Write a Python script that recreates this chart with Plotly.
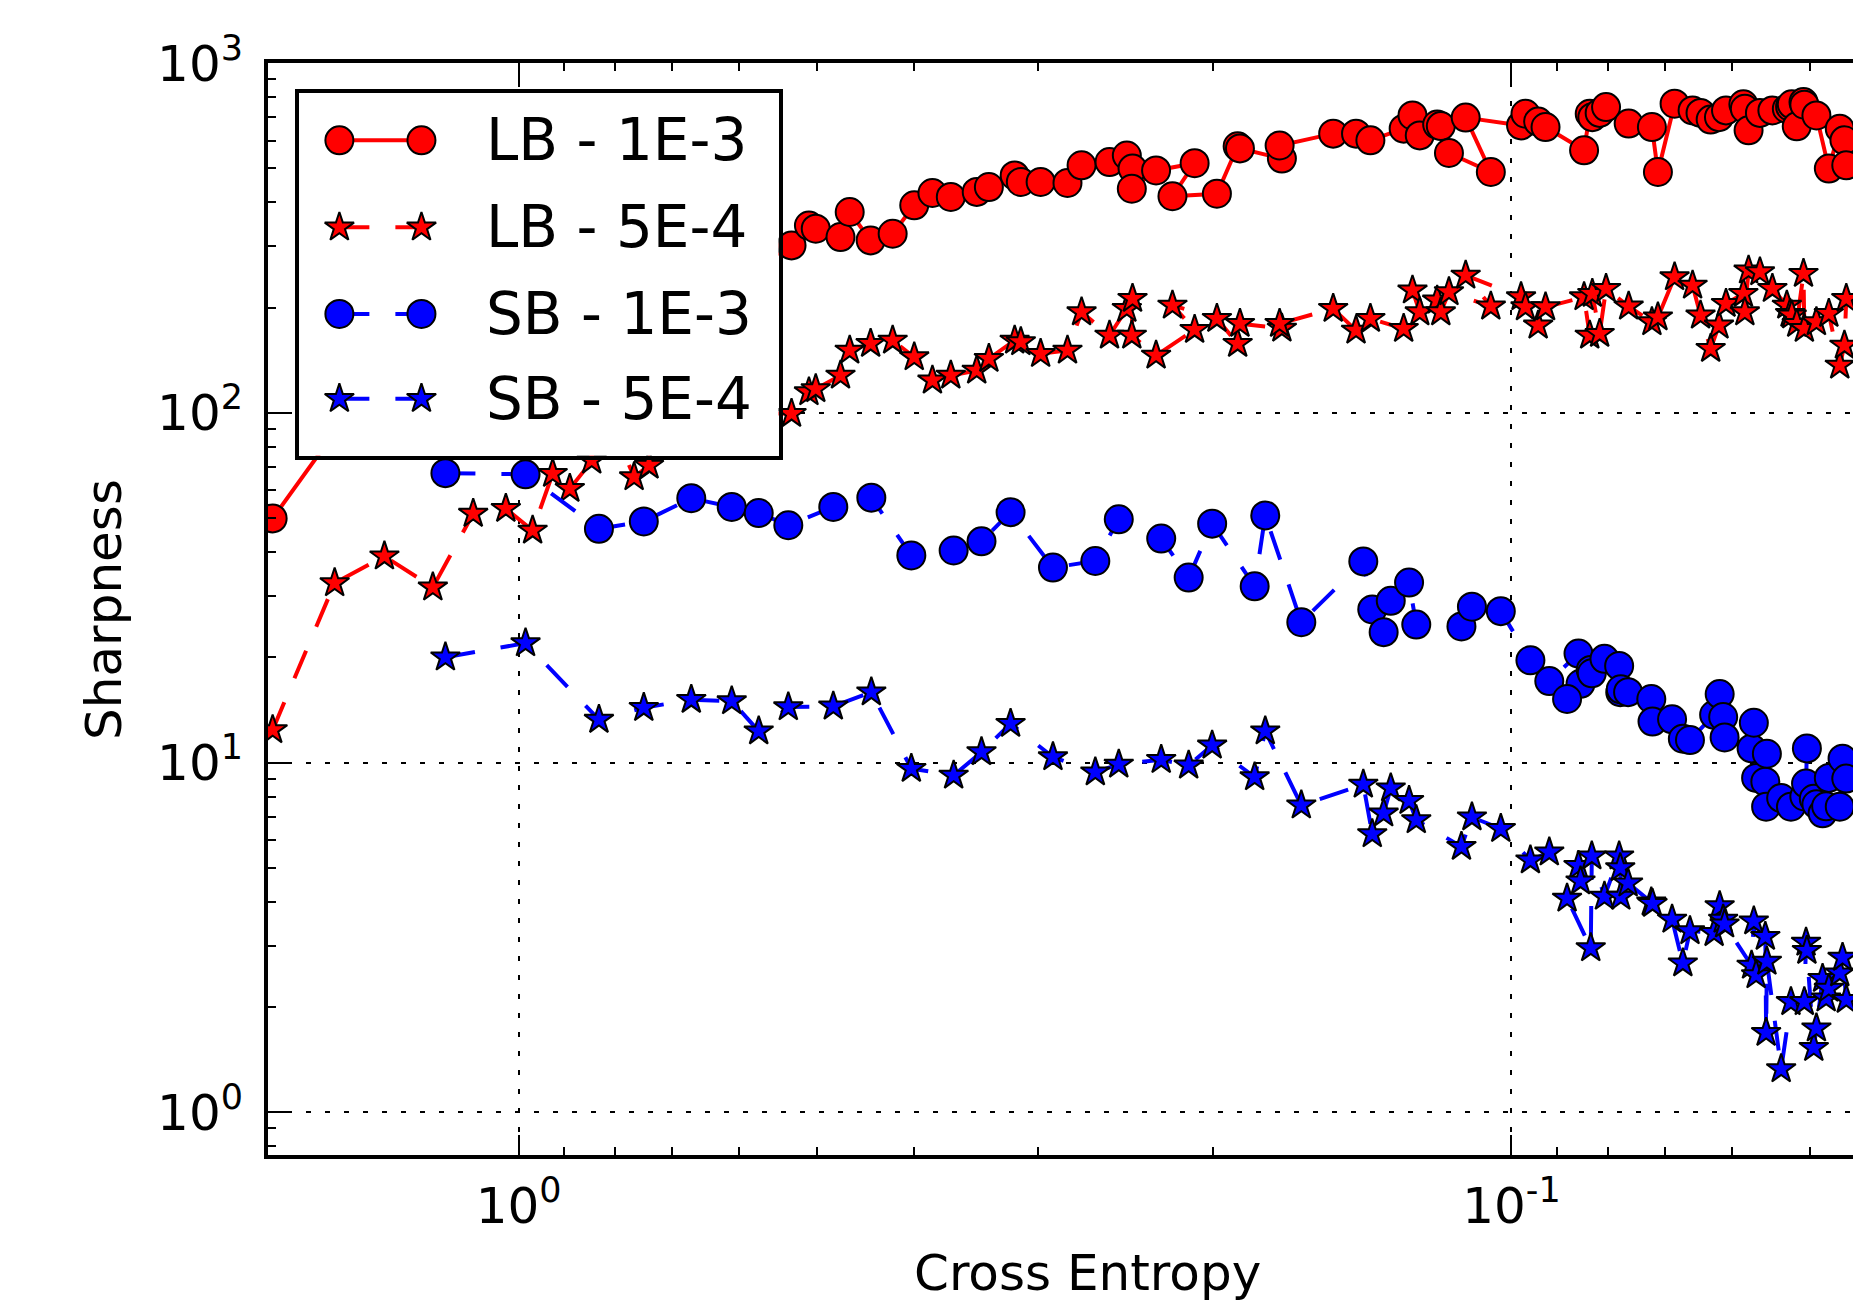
import plotly.graph_objects as go

# ---------------- data ----------------
# Large-batch runs: cross entropy (x) shared by both sharpness measures
lb_cross_entropy = [1.769, 1.532, 1.365, 1.220, 1.111, 1.030, 0.968, 0.924, 0.888, 0.844,
                    0.800, 0.765, 0.739, 0.657, 0.585, 0.531, 0.510, 0.502, 0.474, 0.464,
                    0.442, 0.420, 0.3995, 0.383, 0.367, 0.3456, 0.336, 0.3165, 0.312, 0.298,
                    0.280, 0.271, 0.254, 0.244, 0.2408, 0.2412, 0.228, 0.2085, 0.2195, 0.198,
                    0.1887, 0.1877, 0.1703, 0.1712, 0.1512, 0.1434, 0.1387, 0.1284, 0.1258, 0.1237,
                    0.1188, 0.1178, 0.1156, 0.1049, 0.1112, 0.0978, 0.0968, 0.0940, 0.0924, 0.0845,
                    0.0834, 0.0829, 0.0815, 0.0803, 0.0762, 0.0722, 0.0712, 0.0685, 0.0657, 0.0645,
                    0.0630, 0.0618, 0.0608, 0.0584, 0.0582, 0.0577, 0.0562, 0.0546, 0.0528, 0.0524,
                    0.0522, 0.0516, 0.0508, 0.0507, 0.0493, 0.0479, 0.0467, 0.0462, 0.0460, 0.0434,
                    0.0407]
lb_sharp_1e3 = [49.9, 88, 124, 151, 161, 184, 172, 210, 196, 224,
                210, 239, 224, 264, 255, 301, 343, 336, 318, 375,
                311, 325, 392, 425, 414, 428, 442, 477, 457, 457,
                454, 510, 521, 544, 499, 437, 493, 517, 416, 423,
                578, 570, 533, 581, 628, 628, 601, 649, 708, 621,
                667, 660, 553, 488, 698, 663, 716, 680, 656, 563,
                716, 700, 720, 748, 671, 656, 488, 765, 732, 720,
                689, 700, 732, 762, 740, 642, 720, 732, 740, 750,
                762, 659, 773, 760, 708, 499, 649, 601, 510, 640,
                700]
lb_sharp_5e4 = [12.4, 32.6, 38.9, 31.7, 51.5, 53.2, 46.1, 67.0, 60.7, 73.1,
                88, 65.5, 70.7, 95, 100, 99.4, 114.6, 117, 127.9, 150.8,
                157.6, 161, 144.3, 123.8, 127.9, 132.2, 142.8, 161, 159.3, 147.5,
                150.8, 194, 166.4, 198.5, 212, 166.4, 145.9, 172.8, 202.8, 185.8,
                157.6, 179.8, 174.3, 179.8, 198.5, 172, 185.8, 174, 223.9, 194,
                209.6, 194, 221.4, 201.5, 247, 214.2, 200.5, 177.8, 200.5, 214.2,
                166.4, 219, 168.3, 226.3, 201.5, 181.7, 187.7, 244.3, 231.3, 189.9,
                152.5, 177.8, 205.1, 219, 194, 255.4, 252.5, 226.3, 202.8, 192,
                190, 179.8, 249.8, 174, 181.7, 192, 136.6, 155.8, 212, 190,
                200]

# Small-batch runs
sb_cross_entropy = [1.185, 0.984, 0.830, 0.748, 0.670, 0.610, 0.573, 0.535, 0.482, 0.4413,
                    0.4022, 0.3646, 0.3418, 0.3195, 0.2896, 0.2625, 0.2486, 0.2253, 0.2114, 0.2002,
                    0.1814, 0.1770, 0.1628, 0.1410, 0.1381, 0.1345, 0.1323, 0.1268, 0.1247, 0.1123,
                    0.1096, 0.1025, 0.0957, 0.0916, 0.0856, 0.0852, 0.0879, 0.0832, 0.0830, 0.0806,
                    0.0779, 0.0777, 0.0776, 0.0763, 0.0723, 0.0721, 0.0689, 0.0672, 0.0661, 0.0625,
                    0.0617, 0.0612, 0.0610, 0.0573, 0.0570, 0.0567, 0.0555, 0.0554, 0.0553, 0.0535,
                    0.0523, 0.0507, 0.0505, 0.0504, 0.0496, 0.0493, 0.0486, 0.0482, 0.0479, 0.0467,
                    0.0464, 0.0460, 0.0434, 0.0407]
sb_sharp_1e3 = [67.2, 66.7, 46.6, 48.9, 57.0, 53.8, 51.7, 47.7, 53.8, 57.2,
                39.1, 40.4, 42.9, 52.0, 36.1, 37.7, 49.6, 43.7, 33.8, 48.2,
                31.9, 50.9, 25.2, 37.6, 27.4, 23.6, 29.0, 32.7, 24.8, 24.5,
                27.9, 27.1, 19.6, 17.1, 20.5, 16.8, 15.2, 18.4, 18.0, 19.8,
                18.9, 15.9, 16.2, 15.9, 15.2, 13.1, 13.3, 11.7, 11.6, 13.7,
                15.7, 13.5, 11.8, 10.98, 13.0, 9.04, 8.82, 7.48, 10.6, 7.92,
                7.48, 8.0, 8.71, 10.98, 7.88, 7.6, 7.16, 7.5, 9.04, 7.48,
                10.26, 9.0, 8.5, 7.5]
sb_sharp_5e4 = [20.0, 21.96, 13.27, 14.35, 15.13, 14.99, 12.30, 14.41, 14.48, 15.9,
                9.61, 9.19, 10.72, 12.92, 10.37, 9.39, 9.88, 10.19, 9.82, 11.2,
                9.09, 12.3, 7.55, 8.66, 6.25, 7.16, 8.45, 7.78, 6.85, 5.75,
                6.98, 6.47, 5.26, 5.54, 5.07, 4.58, 4.09, 2.95, 5.40, 4.14,
                5.40, 5.00, 4.14, 4.52, 3.99, 3.95, 3.56, 2.67, 3.30, 3.26,
                3.89, 3.56, 3.45, 2.63, 3.52, 2.47, 3.18, 1.69, 2.70, 1.33,
                2.07, 2.07, 3.06, 2.9, 1.53, 1.74, 2.41, 2.12, 2.26, 2.5,
                2.77, 2.10, 1.7, 2.0]

series_names = ["LB - 1E-3", "LB - 5E-4", "SB - 1E-3", "SB - 5E-4"]

y_tick_vals = [1, 10, 100, 1000]
y_tick_text = ["10<sup>0</sup>", "10<sup>1</sup>", "10<sup>2</sup>", "10<sup>3</sup>"]
x_tick_vals = [0.1, 1]
x_tick_text = ["10<sup>-1</sup>", "10<sup>0</sup>"]

x_label = "Cross Entropy"
y_label = "Sharpness"

# ---------------- styling ----------------
FONT = "DejaVu Sans"
W, H = 1853, 1303
ML, MR, MT, MB = 268, 0, 63, 148
RED, BLUE = "#ff0000", "#0000ff"
DASH = "30px,26px"
LW = 4

styles = [
    dict(color=RED, symbol="circle", size=28, dash="solid"),
    dict(color=RED, symbol="star", size=22, dash=DASH),
    dict(color=BLUE, symbol="circle", size=28, dash=DASH),
    dict(color=BLUE, symbol="star", size=22, dash=DASH),
]
data_xy = [
    (lb_cross_entropy, lb_sharp_1e3),
    (lb_cross_entropy, lb_sharp_5e4),
    (sb_cross_entropy, sb_sharp_1e3),
    (sb_cross_entropy, sb_sharp_5e4),
]

fig = go.Figure()
for name, st, (xs, ys) in zip(series_names, styles, data_xy):
    fig.add_trace(go.Scatter(
        x=xs, y=ys, mode="lines+markers", name=name,
        line=dict(color=st["color"], width=LW, dash=st["dash"]),
        marker=dict(symbol=st["symbol"], size=st["size"], color=st["color"],
                    line=dict(color="black", width=2)),
        xaxis="x", yaxis="y", showlegend=False, hoverinfo="skip"))

# ---- legend drawn as an inset subplot (two markers joined by a line, like the source) ----
leg_rows = [0.870, 0.630, 0.391, 0.157]
leg_mx = [0.085, 0.256]
leg_text_x = 0.386
for name, st, ry in zip(series_names, styles, leg_rows):
    fig.add_trace(go.Scatter(
        x=leg_mx, y=[ry, ry], mode="lines+markers",
        line=dict(color=st["color"], width=LW, dash=st["dash"]),
        marker=dict(symbol=st["symbol"], size=st["size"], color=st["color"],
                    line=dict(color="black", width=2)),
        xaxis="x2", yaxis="y2", showlegend=False, hoverinfo="skip"))

annotations = []
for name, ry in zip(series_names, leg_rows):
    annotations.append(dict(text=name, x=leg_text_x, y=ry, xref="x2", yref="y2",
                            xanchor="left", yanchor="middle", showarrow=False,
                            font=dict(family=FONT, size=58, color="black")))
annotations.append(dict(text=x_label, x=0.517, y=-0.108, xref="paper", yref="paper",
                        xanchor="center", yanchor="middle", showarrow=False,
                        font=dict(family=FONT, size=50, color="black")))
annotations.append(dict(text=y_label, x=-0.1035, y=0.5, xref="paper", yref="paper",
                        xanchor="center", yanchor="middle", showarrow=False, textangle=-90,
                        font=dict(family=FONT, size=50, color="black")))

minor_x = [m * 10 ** k for k in (-2, -1) for m in range(2, 10)]
minor_y = [m * 10 ** k for k in (-1, 0, 1, 2) for m in range(2, 10)]

axis_common = dict(
    type="log", ticks="inside", ticklen=20, tickwidth=2, tickcolor="black",
    showline=True, linewidth=4, linecolor="black",
    showgrid=True, gridcolor="black", gridwidth=2, griddash="5px,14px",
    zeroline=False,
    tickfont=dict(family=FONT, size=50, color="black"),
)

fig.update_layout(
    width=W, height=H,
    margin=dict(l=ML, r=MR, t=MT, b=MB, pad=0),
    paper_bgcolor="white", plot_bgcolor="white",
    showlegend=False,
    xaxis=dict(**axis_common, range=[0.2524, -1.344], tickmode="array",
               tickvals=x_tick_vals, ticktext=x_tick_text, mirror="allticks",
               ticklabelstandoff=4, domain=[0, 1], anchor="y",
               minor=dict(tickmode="array", tickvals=minor_x, ticks="inside", ticklen=8,
                          tickwidth=2, tickcolor="black", showgrid=False)),
    yaxis=dict(**axis_common, range=[-0.1218, 3.0], tickmode="array",
               tickvals=y_tick_vals, ticktext=y_tick_text, mirror=False,
               ticklabelstandoff=11, domain=[0, 1], anchor="x",
               minor=dict(tickmode="array", tickvals=minor_y, ticks="inside", ticklen=8,
                          tickwidth=2, tickcolor="black", showgrid=False)),
    xaxis2=dict(domain=[0.0193, 0.3221], range=[0, 1], anchor="y2",
                showline=True, mirror=True, linewidth=4, linecolor="black",
                showgrid=False, zeroline=False, showticklabels=False, ticks=""),
    yaxis2=dict(domain=[0.6404, 0.9723], range=[0, 1], anchor="x2",
                showline=True, mirror=True, linewidth=4, linecolor="black",
                showgrid=False, zeroline=False, showticklabels=False, ticks=""),
    annotations=annotations,
)

fig.write_html("out.html", config={"displayModeBar": False},
               post_script="document.body.style.margin='0';")
